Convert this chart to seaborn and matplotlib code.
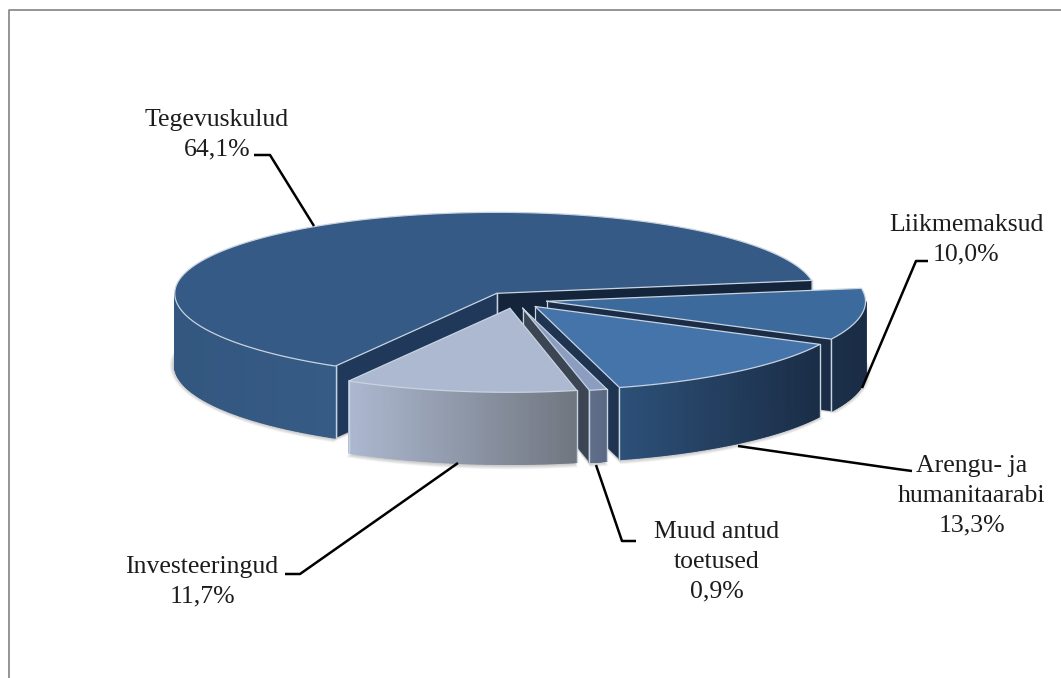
import numpy as np
import matplotlib
matplotlib.use('Agg')
import matplotlib.pyplot as plt
from matplotlib.collections import PolyCollection
import seaborn as sns

# slices in counter-clockwise order
labels = ['Tegevuskulud', 'Investeeringud', 'Muud antud\ntoetused', 'Arengu- ja\nhumanitaarabi', 'Liikmemaksud']
shares = [64.1, 11.7, 0.9, 13.3, 10.0]
share_text = ['64,1%', '11,7%', '0,9%', '13,3%', '10,0%']

top_colors = ['#355a85', '#adb9d1', '#8b9dc0', '#4574ab', '#3d6a9c']
start_wall_colors = ['#14243a', '#14243a', '#3b4554', '#1e3450', '#1a2c46']
end_wall_colors = ['#20385a', '#20385a', '#3b4554', '#1e3450', '#1a2c46']
outer_left = ['#33577f', '#acb8d0', '#616f8c', '#2d5078', '#1c3049']
outer_right = ['#365b85', '#70767f', '#5a6883', '#1a2d46', '#1a2c45']

# drawing order, back to front
draw_order = [0, 4, 3, 2, 1]

cx, cy = 515, 300
rx_left, rx_right, ry_back, ry_front = 322, 319, 81, 84
depth = 72
explode = 0.1
start_angle = 9.2
edge = '#c8d3e0'

sns.set_theme(style='white')
plt.rcParams['font.family'] = ['Liberation Serif', 'DejaVu Serif']

fig = plt.figure(figsize=(10.61, 6.78), dpi=100)
ax = fig.add_axes([0, 0, 1, 1])
ax.set_xlim(0, 1061)
ax.set_ylim(678, 0)
ax.axis('off')

# outer frame, only left and top fall inside the picture
ax.plot([9, 9, 1061], [678, 10, 10], color='#8c8c8c', lw=1.3)


def ell(angle, ox=0, oy=0):
    a = np.radians(angle)
    s = np.sin(a)
    c = np.cos(a)
    ry = np.where(s > 0, ry_back, ry_front)
    rx = np.where(c > 0, rx_right, rx_left)
    return ox + rx * c, oy - ry * s


angles = start_angle + np.concatenate([[0], np.cumsum(shares)]) * 3.6
spans = list(zip(angles[:-1], angles[1:]))


def apex(i):
    mid = sum(spans[i]) / 2
    x, y = ell(mid, 0, 0)
    return cx + explode * x, cy + explode * y


# soft shadow under the pie
for grow in np.linspace(5, 0, 8):
    for i in draw_order:
        ax0, ay0 = apex(i)
        t = np.linspace(spans[i][0], spans[i][1], 80)
        x, y = ell(t, ax0, ay0 + depth)
        x = ax0 + (x - ax0) * (1 + grow / rx_left)
        y = ay0 + depth + (y - ay0 - depth) * (1 + grow / ry_front)
        ax.fill(np.r_[ax0, x], np.r_[ay0 + depth, y], color='#444444', alpha=0.05, lw=0, zorder=1)

z = 2
for i in draw_order:
    a0, a1 = spans[i]
    px, py = apex(i)
    t = np.linspace(a0, a1, 120)
    x, y = ell(t, px, py)

    # radial side walls
    for ang, col, visible in [(a0, start_wall_colors[i], np.cos(np.radians(a0)) > 0),
                              (a1, end_wall_colors[i], np.cos(np.radians(a1)) < 0)]:
        if visible:
            ex, ey = ell(ang, px, py)
            ax.fill([px, ex, ex, px], [py, ey, ey + depth, py + depth], color=col, lw=0, zorder=z)
            ax.plot([px, px], [py, py + depth], color=edge, lw=0.9, zorder=z + 1)
            ax.plot([ex, ex], [ey, ey + depth], color=edge, lw=1.0, zorder=z + 1)

    # curved outer wall, shaded left to right
    lo, hi = a0, a1
    if i == 0:
        lo = 180
    if i == 4:
        hi = 360
    w = np.linspace(lo, hi, 90)
    wx, wy = ell(w, px, py)
    pal = sns.blend_palette([outer_left[i], outer_right[i]], 89)
    polys = [[(wx[k], wy[k]), (wx[k + 1], wy[k + 1]), (wx[k + 1], wy[k + 1] + depth), (wx[k], wy[k] + depth)]
             for k in range(89)]
    # shade by screen position so the gradient runs evenly
    ranks = np.clip(((wx[:-1] - wx.min()) / (wx.max() - wx.min()) * 88).astype(int), 0, 88)
    cols = [pal[r] for r in ranks]
    ax.add_collection(PolyCollection(polys, facecolors=cols, edgecolors=cols, linewidths=1.0, zorder=z + 2))
    for v in (lo, hi):
        if (i == 0 and v == lo) or (i == 4 and v == hi):
            continue
        ex, ey = ell(v, px, py)
        ax.plot([ex, ex], [ey, ey + depth], color=edge, lw=1.0, zorder=z + 3)

    # top face
    ax.fill(np.r_[px, x], np.r_[py, y], color=top_colors[i], lw=0, zorder=z + 4)
    ax.plot(np.r_[px, x, px], np.r_[py, y, py], color=edge, lw=0.9, solid_joinstyle='round', zorder=z + 5)
    z += 6

# leader lines, label anchor -> elbow -> slice
leaders = [([254, 270, 314], [155, 155, 226]),
           ([285, 300, 458], [574, 574, 463]),
           ([636, 622, 596], [541, 541, 465]),
           ([912, 897, 738], [471, 469, 446]),
           ([928, 916, 862], [261, 261, 388])]
for lx, ly in leaders:
    ax.plot(lx, ly, color='black', lw=1.8, solid_capstyle='butt', zorder=z)

label_pos = [(217, 135), (202, 582), (717, 562), (972, 496), (966, 240)]
for lab, txt, (lx, ly) in zip(labels, share_text, label_pos):
    ax.text(lx, ly, lab + '\n' + txt, ha='center', va='center', fontsize=18.5,
            color='#1c1c1c', linespacing=1.45, zorder=z)

fig.savefig('out.png', dpi=100)
